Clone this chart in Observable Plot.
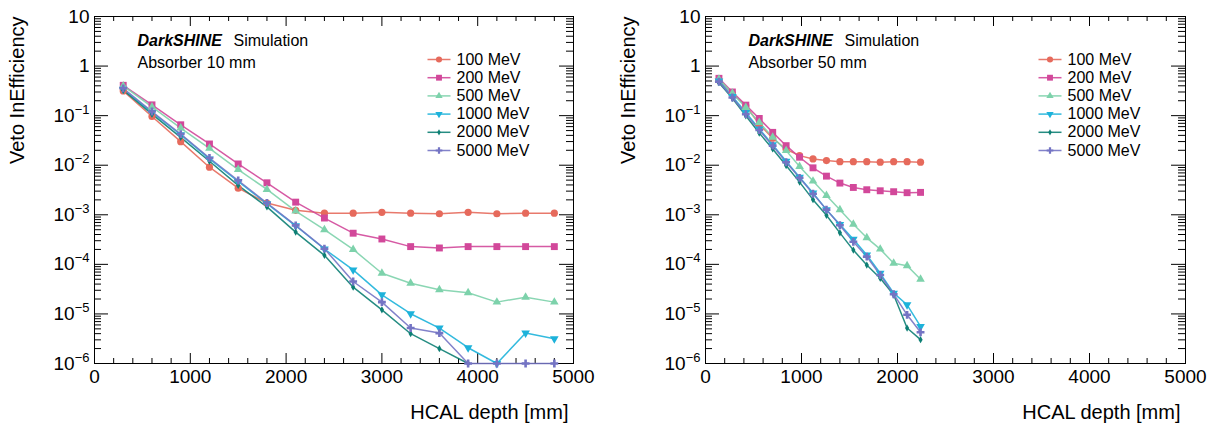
<!DOCTYPE html>
<html>
<head>
<meta charset="utf-8">
<script src="https://cdn.jsdelivr.net/npm/d3@7"></script>
<script src="https://cdn.jsdelivr.net/npm/@observablehq/plot@0.6"></script>
<style>
  html, body { margin: 0; padding: 0; background: #fff; }
  #wrap { display: flex; width: 1214px; height: 423px; }
  svg { font-family: "Liberation Sans", Arial, Helvetica, sans-serif; }
</style>
</head>
<body>
<div id="wrap"></div>
<script>
// ---------------- data ----------------
const seriesNames = ["100 MeV", "200 MeV", "500 MeV", "1000 MeV", "2000 MeV", "5000 MeV"];

// HCAL depth (mm) of each point
const depth10 = [300, 600, 900, 1200, 1500, 1800, 2100, 2400, 2700, 3000, 3300, 3600, 3900, 4200, 4500, 4800];
const depth50 = [140, 280, 420, 560, 700, 840, 980, 1120, 1260, 1400, 1540, 1680, 1820, 1960, 2100, 2240];

// Absorber 10 mm
const e100_10  = [0.315, 0.0962, 0.0299, 0.00912, 0.00345, 0.00173, 0.00123, 0.00108, 0.00108, 0.00112, 0.00108, 0.00105, 0.00112, 0.00105, 0.00108, 0.00108];
const e200_10  = [0.409, 0.165, 0.0654, 0.0268, 0.0106, 0.00442, 0.0018, 0.00086, 0.000425, 0.000325, 0.000228, 0.000214, 0.000228, 0.000228, 0.000228, 0.000228];
const e500_10  = [0.397, 0.150, 0.0561, 0.0219, 0.00818, 0.00325, 0.00119, 0.0005, 0.0002, 0.0000663, 0.0000417, 0.0000306, 0.0000267, 0.0000173, 0.0000218, 0.0000173];
const e1000_10 = [0.340, 0.116, 0.0412, 0.0134, 0.0047, 0.00168, 0.0006, 0.000204, 0.0000774, 0.0000243, 0.0000101, 0.00000519, 0.00000208, 0.000001, 0.00000411, 0.00000316];
const e2000_10 = [0.325, 0.107, 0.0365, 0.0120, 0.00391, 0.00144, 0.000448, 0.000152, 0.0000347, 0.0000121, 0.00000399, 0.00000199, 0.000001];
const e5000_10 = [0.356, 0.121, 0.0425, 0.0140, 0.00492, 0.00173, 0.00061, 0.000207, 0.0000451, 0.0000173, 0.00000519, 0.00000411, 0.000001, 0.000001, 0.000001, 0.000001];

// Absorber 50 mm
const e100_50  = [0.52, 0.28, 0.158, 0.067, 0.035, 0.021, 0.0156, 0.0134, 0.0124, 0.0118, 0.0118, 0.0118, 0.0115, 0.0118, 0.0118, 0.0115];
const e200_50  = [0.566, 0.30, 0.163, 0.0877, 0.046, 0.0248, 0.0145, 0.00885, 0.00602, 0.00436, 0.00356, 0.0032, 0.00305, 0.00292, 0.00279, 0.00283];
const e500_50  = [0.54, 0.283, 0.146, 0.073, 0.0365, 0.0197, 0.0094, 0.00478, 0.00246, 0.00127, 0.000645, 0.000343, 0.000203, 0.000105, 0.000094, 0.00005];
const e1000_50 = [0.50, 0.243, 0.116, 0.0536, 0.026, 0.012, 0.00574, 0.00274, 0.00127, 0.000635, 0.000322, 0.000154, 0.000066, 0.0000262, 0.0000153, 0.0000056];
const e2000_50 = [0.463, 0.224, 0.0993, 0.0445, 0.0213, 0.00985, 0.00456, 0.00202, 0.000977, 0.000432, 0.000194, 0.000097, 0.0000524, 0.0000243, 0.0000052, 0.00000303];
const e5000_50 = [0.485, 0.232, 0.107, 0.0512, 0.0248, 0.0115, 0.00557, 0.00266, 0.00127, 0.000616, 0.000285, 0.000143, 0.0000611, 0.000025, 0.0000096, 0.00000426];

// axis ticks
const xMajorTicks = [0, 1000, 2000, 3000, 4000, 5000];
const xMinorTicks = [200, 400, 600, 800, 1200, 1400, 1600, 1800, 2200, 2400, 2600, 2800, 3200, 3400, 3600, 3800, 4200, 4400, 4600, 4800];
const yMajorTicks = [1e-6, 1e-5, 1e-4, 1e-3, 1e-2, 1e-1, 1, 10];
const yMinorTicks = yMajorTicks.slice(0, -1).flatMap(d => [2, 3, 4, 5, 6, 7, 8, 9].map(m => d * m));

// ---------------- styles ----------------
const seriesColors  = ["#e66a5c", "#d2489a", "#7dd2ab", "#1db2da", "#0d7f74", "#7474c4"];
const seriesSymbols = ["circle", "square", "triangle", "triangle", "diamond", "cross"];
const seriesRadius  = [3.6, 3.9, 3.2, 3.2, 2.2, 3.3];
const seriesRotate  = [0, 0, 0, 180, 0, 0];
const FONT = "'Liberation Sans', Arial, Helvetica, sans-serif";

function makePanel(depth, values, absorberLabel, marginLeft, marginRight) {
  const W = 607, H = 423, mT = 16, mB = 60;
  const iw = W - marginLeft - marginRight, ih = H - mT - mB;
  const rows = [];
  seriesNames.forEach((s, k) => values[k].forEach((v, i) => rows.push({series: s, depth: depth[i], eff: v})));

  const legendTop = 43, legendStep = 18.2, legLineL = 333, legLineR = 356, legText = 362;
  const marks = [
    Plot.frame({stroke: "#000", strokeWidth: 1}),
    // inward ticks (ROOT style)
    Plot.tickX(xMajorTicks, {x: d => d, insetTop: ih - 10, stroke: "#000"}),
    Plot.tickX(xMajorTicks, {x: d => d, insetBottom: ih - 10, stroke: "#000"}),
    Plot.tickX(xMinorTicks, {x: d => d, insetTop: ih - 5, stroke: "#000"}),
    Plot.tickX(xMinorTicks, {x: d => d, insetBottom: ih - 5, stroke: "#000"}),
    Plot.tickY(yMajorTicks, {y: d => d, insetRight: iw - 14, stroke: "#000"}),
    Plot.tickY(yMajorTicks, {y: d => d, insetLeft: iw - 14, stroke: "#000"}),
    Plot.tickY(yMinorTicks, {y: d => d, insetRight: iw - 7, stroke: "#000"}),
    Plot.tickY(yMinorTicks, {y: d => d, insetLeft: iw - 7, stroke: "#000"}),
    Plot.axisX({ticks: xMajorTicks, tickSize: 0, tickPadding: 6, label: null, fontSize: 19, tickFormat: d => String(d)}),
    Plot.axisY({ticks: yMajorTicks, tickSize: 0, tickPadding: 5, label: null, fontSize: 19,
      tickFormat: d => { const e = Math.round(Math.log10(d)); return e === 0 ? "1" : e === 1 ? "10" : "10^" + e; }}),
    Plot.line(rows, {x: "depth", y: "eff", z: "series", stroke: "series", strokeWidth: 1.5, strokeOpacity: 0.9}),
  ];
  seriesNames.forEach((s, k) => {
    marks.push(Plot.dot(rows.filter(r => r.series === s), {
      x: "depth", y: "eff", symbol: seriesSymbols[k], fill: seriesColors[k], stroke: null,
      r: seriesRadius[k], rotate: seriesRotate[k]
    }));
    const ly = legendTop + k * legendStep;
    marks.push(Plot.frame({insetTop: ly - 0.75, insetBottom: ih - ly - 0.75, insetLeft: legLineL, insetRight: iw - legLineR,
      fill: seriesColors[k], fillOpacity: 0.9, stroke: null}));
    marks.push(Plot.dot([s], {frameAnchor: "top-left", dx: (legLineL + legLineR) / 2, dy: ly,
      symbol: seriesSymbols[k], fill: seriesColors[k], stroke: null, r: seriesRadius[k] * 0.85, rotate: seriesRotate[k]}));
    marks.push(Plot.text([s], {text: d => d, frameAnchor: "top-left", dx: legText, dy: ly,
      textAnchor: "start", lineAnchor: "middle", fontSize: 16, fill: "#000"}));
  });
  marks.push(
    Plot.text(["DarkSHINE"], {text: d => d, frameAnchor: "top-left", dx: 43, dy: 29, textAnchor: "start", lineAnchor: "bottom",
      fontSize: 16, fontWeight: "bold", fontStyle: "italic", fill: "#000"}),
    Plot.text(["Simulation"], {text: d => d, frameAnchor: "top-left", dx: 139, dy: 29, textAnchor: "start", lineAnchor: "bottom",
      fontSize: 16, fill: "#000"}),
    Plot.text([absorberLabel], {text: d => d, frameAnchor: "top-left", dx: 43, dy: 51, textAnchor: "start", lineAnchor: "bottom",
      fontSize: 16, fill: "#000"}),
    Plot.text(["Veto InEfficiency"], {text: d => d, frameAnchor: "top-left", rotate: -90, dx: -71, dy: 0,
      textAnchor: "end", lineAnchor: "bottom", fontSize: 20, fill: "#000"}),
    Plot.text(["HCAL depth [mm]"], {text: d => d, frameAnchor: "bottom-right", dx: -5, dy: 55,
      textAnchor: "end", lineAnchor: "bottom", fontSize: 20, fill: "#000"})
  );

  const svg = Plot.plot({
    width: W, height: H,
    marginLeft, marginRight, marginTop: mT, marginBottom: mB,
    style: {fontFamily: FONT, background: "#fff", color: "#000", overflow: "visible"},
    x: {domain: [0, 5000]},
    y: {type: "log", domain: [1e-6, 10]},
    color: {domain: seriesNames, range: seriesColors},
    marks
  });

  // superscript exponents for the log tick labels
  d3.select(svg).selectAll('g[aria-label="y-axis tick label"] text').each(function () {
    const m = this.textContent.match(/^10\^(-?\d+)$/);
    if (m) {
      this.textContent = "10";
      d3.select(this).append("tspan").attr("dy", -8).attr("font-size", 13).text(m[1].replace("-", "\u2212"));
    }
  });
  return svg;
}

const wrap = document.getElementById("wrap");
wrap.appendChild(makePanel(depth10, [e100_10, e200_10, e500_10, e1000_10, e2000_10, e5000_10], "Absorber 10 mm", 94, 34));
wrap.appendChild(makePanel(depth50, [e100_50, e200_50, e500_50, e1000_50, e2000_50, e5000_50], "Absorber 50 mm", 98, 29));
</script>
</body>
</html>
